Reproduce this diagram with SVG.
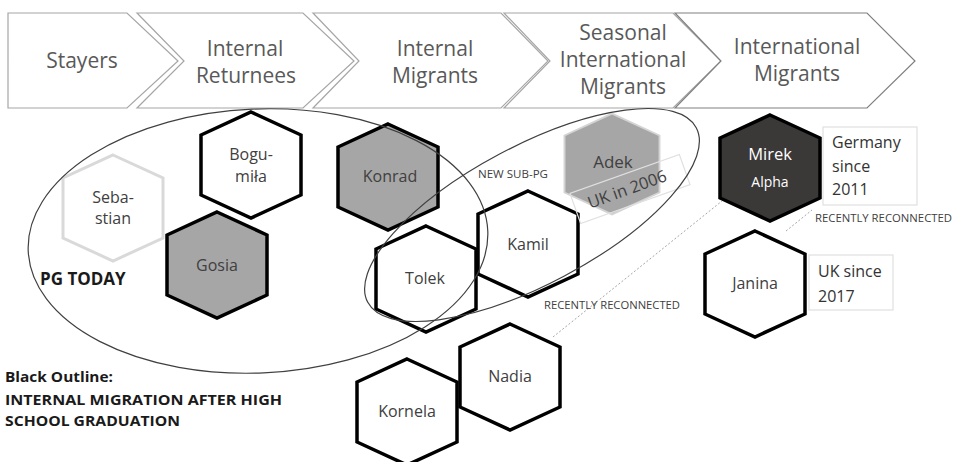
<svg xmlns="http://www.w3.org/2000/svg" xmlns:xlink="http://www.w3.org/1999/xlink" width="958" height="462" viewBox="0 0 958 462">
<defs>
<style>
.chev{fill:#fff;stroke:#a6a6a6;stroke-width:1.2}
.chev5{fill:#fff;stroke:#808080;stroke-width:1.2}
.ct{font-family:"Open Sans","Liberation Sans",sans-serif;font-size:21px;fill:#595959;text-anchor:middle}
.hl{font-family:"Open Sans","Liberation Sans",sans-serif;font-size:16px;fill:#404040;text-anchor:middle}
.bt{font-family:"Open Sans","Liberation Sans",sans-serif;font-size:16px;fill:#333}
.sm{font-family:"Open Sans","Liberation Sans",sans-serif;font-size:11px;fill:#404040}
.bold{font-family:"Open Sans","Liberation Sans",sans-serif;font-weight:bold;fill:#1a1a1a}
.hb{fill:#fff;stroke:#000;stroke-width:3.5}
.hg{fill:#a6a6a6;stroke:#000;stroke-width:3.5}
.hlight{fill:#fff;stroke:#d9d9d9;stroke-width:3}
.hadek{fill:#a6a6a6;stroke:#d4d4d4;stroke-width:2}
.hdark{fill:#3b3838;stroke:#000;stroke-width:3.5}
.box{fill:#fff;stroke:#e0e0e0;stroke-width:1.2}
.ell{fill:none;stroke:#404040;stroke-width:1.2}
.dot{fill:none;stroke:#a6a6a6;stroke-width:1;stroke-dasharray:2 2}
</style>
<path id="hex" d="M0,-53 L50,-30 L50,30 L0,53 L-50,30 L-50,-30 Z"/>
</defs>
<rect width="958" height="462" fill="#fff"/>

<g id="stages">
<g id="stage-stayers">
<path class="chev" d="M8,13 L127,13 L178,61 L127,108 L8,108 Z"/>
<text class="ct" x="82" y="68">Stayers</text>
</g>
<g id="stage-internal-returnees">
<path class="chev" d="M137,13 L303,13 L354,61 L303,108 L137,108 L184,61 Z"/>
<text class="ct"><tspan x="245" y="56">Internal</tspan><tspan x="246" y="83">Returnees</tspan></text>
</g>
<g id="stage-internal-migrants">
<path class="chev" d="M313,13 L501,13 L548,61 L501,108 L313,108 L359,61 Z"/>
<text class="ct"><tspan x="435" y="56">Internal</tspan><tspan x="435" y="83">Migrants</tspan></text>
</g>
<g id="stage-seasonal">
<path class="chev" d="M504,13 L673,13 L721,61 L673,108 L504,108 L550,61 Z"/>
<text class="ct"><tspan x="623" y="40">Seasonal</tspan><tspan x="623" y="67">International</tspan><tspan x="623" y="94">Migrants</tspan></text>
</g>
<g id="stage-international">
<path class="chev5" d="M675,13 L867,13 L915,61 L867,108 L675,108 L721,61 Z"/>
<text class="ct"><tspan x="797" y="54">International</tspan><tspan x="797" y="81">Migrants</tspan></text>
</g>
</g>

<g id="sebastian">
<use xlink:href="#hex" href="#hex" class="hlight" transform="translate(113,208)"/>
<text class="hl"><tspan x="113" y="203">Seba-</tspan><tspan x="113" y="224">stian</tspan></text>
</g>
<g id="bogumila">
<use xlink:href="#hex" href="#hex" class="hb" transform="translate(251,165)"/>
<text class="hl"><tspan x="251" y="160">Bogu-</tspan><tspan x="251" y="182">miła</tspan></text>
</g>
<g id="gosia">
<use xlink:href="#hex" href="#hex" class="hg" transform="translate(217,265)"/>
<text class="hl" x="217" y="271">Gosia</text>
</g>
<g id="konrad">
<use xlink:href="#hex" href="#hex" class="hg" transform="translate(388,177)"/>
<text class="hl" x="390" y="182">Konrad</text>
</g>
<g id="tolek">
<use xlink:href="#hex" href="#hex" class="hb" transform="translate(426,279)"/>
<text class="hl" x="425" y="284">Tolek</text>
</g>
<g id="kamil">
<use xlink:href="#hex" href="#hex" class="hb" transform="translate(528,244)"/>
<text class="hl" x="528" y="250">Kamil</text>
</g>
<g id="adek">
<use xlink:href="#hex" href="#hex" class="hadek" transform="translate(612,164) scale(0.95)"/>
<text class="hl" x="613" y="168" style="font-size:17px">Adek</text>
<rect class="box" x="-58" y="-16" width="116" height="32" transform="translate(630,189) rotate(-19.5)" style="fill:none"/>
<text class="hl" x="0" y="6" style="font-size:16.5px" transform="translate(627,189) rotate(-20)">UK in 2006</text>
</g>
<g id="mirek">
<use xlink:href="#hex" href="#hex" class="hdark" transform="translate(770,168)"/>
<text class="hl" style="fill:#fff"><tspan x="770" y="160" style="font-size:16.5px">Mirek</tspan><tspan x="770" y="187" style="font-size:14px">Alpha</tspan></text>
</g>
<g id="germany-note">
<rect class="box" x="823" y="127" width="94" height="78"/>
<text class="bt"><tspan x="832" y="148">Germany</tspan><tspan x="832" y="172">since</tspan><tspan x="832" y="195">2011</tspan></text>
</g>
<g id="janina">
<use xlink:href="#hex" href="#hex" class="hb" transform="translate(755,284)"/>
<text class="hl" x="755" y="289">Janina</text>
</g>
<g id="uk-note">
<rect class="box" x="809" y="255" width="84" height="55"/>
<text class="bt"><tspan x="818" y="277">UK since</tspan><tspan x="818" y="302">2017</tspan></text>
</g>
<g id="nadia">
<use xlink:href="#hex" href="#hex" class="hb" transform="translate(510,377)"/>
<text class="hl" x="510" y="382">Nadia</text>
</g>
<g id="kornela">
<use xlink:href="#hex" href="#hex" class="hb" transform="translate(407,412)"/>
<text class="hl" x="407" y="417">Kornela</text>
</g>

<g id="connectors">
<ellipse class="ell" cx="258" cy="241" rx="230" ry="132" transform="rotate(-2.5 258 241)"/>
<ellipse class="ell" cx="532" cy="215" rx="186" ry="69" transform="rotate(-28 532 215)"/>
<line class="dot" x1="553" y1="337" x2="722" y2="201"/>
<line class="dot" x1="786" y1="231" x2="812" y2="210"/>
</g>

<g id="labels">
<text class="bold" x="40" y="285" style="font-size:17px">PG TODAY</text>
<text class="sm" x="478" y="178" textLength="70" lengthAdjust="spacingAndGlyphs">NEW SUB-PG</text>
<text class="sm" x="544" y="309" textLength="136" lengthAdjust="spacingAndGlyphs">RECENTLY RECONNECTED</text>
<text class="sm" x="815" y="222" textLength="137" lengthAdjust="spacingAndGlyphs">RECENTLY RECONNECTED</text>
<text class="bold"><tspan x="5" y="382" style="font-size:15px" textLength="108" lengthAdjust="spacingAndGlyphs">Black Outline:</tspan><tspan x="5" y="405" style="font-size:15px" textLength="277" lengthAdjust="spacingAndGlyphs">INTERNAL MIGRATION AFTER HIGH</tspan><tspan x="5" y="426" style="font-size:15px" textLength="175" lengthAdjust="spacingAndGlyphs">SCHOOL GRADUATION</tspan></text>
</g>
</svg>
